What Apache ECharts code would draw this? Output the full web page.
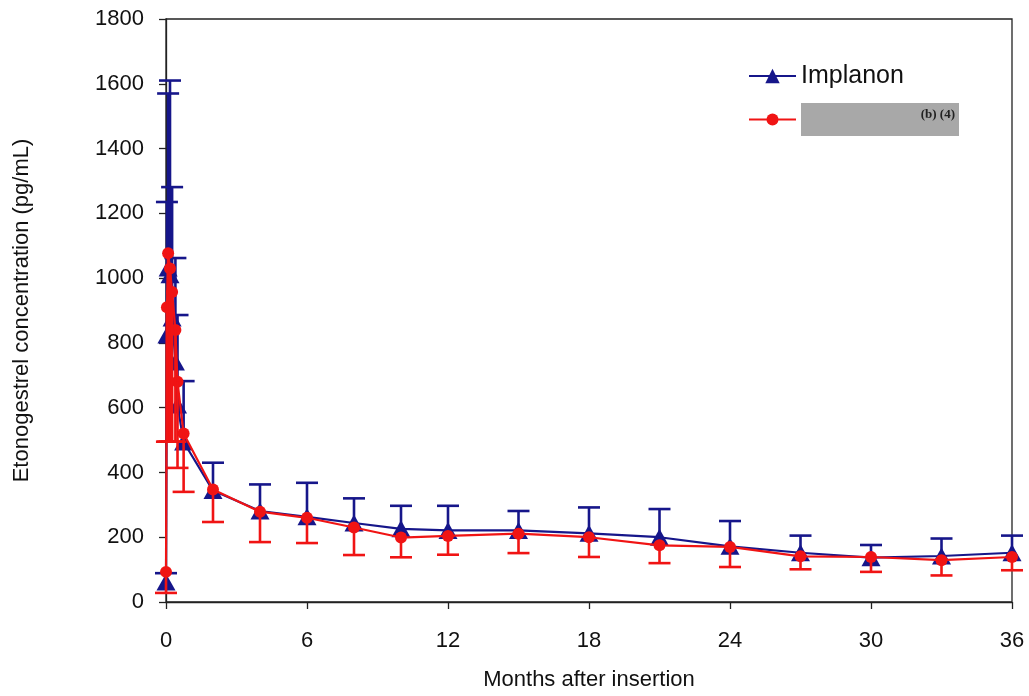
<!DOCTYPE html>
<html>
<head>
<meta charset="utf-8">
<script src="https://cdn.jsdelivr.net/npm/echarts@6/dist/echarts.min.js"></script>
<style>
  html, body { margin: 0; padding: 0; background: #fff; }
  #chart { width: 1029px; height: 696px; }
</style>
</head>
<body>
<div id="chart"></div>
<script>
// Sampling times (months after insertion)
const months = [0, 0.04, 0.09, 0.17, 0.26, 0.4, 0.49, 0.75, 2, 4, 6, 8, 10, 12, 15, 18, 21, 24, 27, 30, 33, 36];

// Implanon: mean concentration and mean + SD (pg/mL)
const implanonMean = [62, 824, 1031, 1010, 877, 741, 608, 494, 344, 281, 263, 244, 226, 221, 221, 212, 200, 172, 152, 137, 142, 152];
const implanonUpper = [89, 1235, 1570, 1610, 1281, 1062, 886, 682, 430, 363, 368, 320, 297, 297, 281, 292, 287, 250, 205, 176, 196, 205];

// Comparator implant: mean concentration and mean - SD (pg/mL)
const otherMean = [93, 910, 1077, 1030, 957, 840, 680, 520, 347, 279, 260, 230, 199, 204, 211, 200, 175, 170, 141, 139, 129, 139];
const otherLower = [28, 495, 495, 495, 495, 495, 414, 340, 247, 185, 182, 145, 138, 146, 151, 139, 120, 108, 101, 93, 82, 98];

// Axis ticks
const xTicks = [0, 6, 12, 18, 24, 30, 36];
const yTicks = [0, 200, 400, 600, 800, 1000, 1200, 1400, 1600, 1800];

const seriesNames = ['Implanon', '(b) (4)'];
const BLUE = '#16168a';
const RED = '#f01414';
const FONT = 'Liberation Sans, Arial, sans-serif';

const pairs = (xs, ys) => xs.map((x, i) => [x, ys[i]]);
const triples = (xs, ys, zs) => xs.map((x, i) => [x, ys[i], zs[i]]);

// One-sided error bar: stem from the mean to the bound, with a cap
function errorBar(color) {
  return function (params, api) {
    const x = api.value(0);
    const p0 = api.coord([x, api.value(1)]);
    const p1 = api.coord([x, api.value(2)]);
    const hw = 11;
    const style = { stroke: color, lineWidth: 2.6 };
    return {
      type: 'group',
      children: [
        { type: 'line', shape: { x1: p0[0], y1: p0[1], x2: p1[0], y2: p1[1] }, style: style },
        { type: 'line', shape: { x1: p1[0] - hw, y1: p1[1], x2: p1[0] + hw, y2: p1[1] }, style: style }
      ]
    };
  };
}

const chart = echarts.init(document.getElementById('chart'), null, { renderer: 'canvas' });

chart.setOption({
  animation: false,
  backgroundColor: '#fff',
  grid: {
    left: 166, right: 17, top: 19, bottom: 94,
    show: true, borderColor: '#222', borderWidth: 1.3, backgroundColor: 'transparent'
  },
  legend: [
    {
      data: [seriesNames[0]],
      left: 748, top: 63,
      orient: 'vertical',
      itemWidth: 47, itemHeight: 18, itemGap: 0,
      padding: 0,
      textStyle: { fontFamily: FONT, fontSize: 25, color: '#111', lineHeight: 26 }
    },
    {
      data: [seriesNames[1]],
      left: 748, top: 103,
      orient: 'vertical',
      itemWidth: 47, itemHeight: 15, itemGap: 0,
      padding: 0,
      formatter: name => '{box|' + name + '}',
      textStyle: {
        rich: {
          box: {
            backgroundColor: '#a8a8a8',
            width: 154,
            height: 17,
            lineHeight: 17,
            padding: [3, 4, 13, 0],
            align: 'right',
            fontFamily: 'Liberation Serif, serif',
            fontSize: 13,
            fontWeight: 'bold',
            color: '#222'
          }
        }
      }
    }
  ],
  xAxis: {
    type: 'value',
    min: xTicks[0], max: xTicks[xTicks.length - 1], interval: 6,
    name: 'Months after insertion',
    nameLocation: 'middle', nameGap: 67,
    nameTextStyle: { fontFamily: FONT, fontSize: 22, color: '#111' },
    axisLine: { lineStyle: { color: '#222', width: 1.3 } },
    axisTick: { show: true, length: 7, lineStyle: { color: '#222', width: 1.3 } },
    axisLabel: { fontFamily: FONT, fontSize: 22, color: '#111', margin: 28 },
    splitLine: { show: false }
  },
  yAxis: {
    type: 'value',
    min: yTicks[0], max: yTicks[yTicks.length - 1], interval: 200,
    name: 'Etonogestrel concentration (pg/mL)',
    nameLocation: 'middle', nameGap: 133,
    nameTextStyle: { fontFamily: FONT, fontSize: 22, color: '#111' },
    axisLine: { show: true, lineStyle: { color: '#222', width: 1.3 } },
    axisTick: { show: true, length: 7, lineStyle: { color: '#222', width: 1.3 } },
    axisLabel: { fontFamily: FONT, fontSize: 22, color: '#111', margin: 22, formatter: v => String(v) },
    splitLine: { show: false }
  },
  series: [
    {
      name: seriesNames[0],
      type: 'line',
      data: pairs(months, implanonMean),
      symbol: 'triangle', symbolSize: [19, 17],
      lineStyle: { color: BLUE, width: 2.2 },
      itemStyle: { color: BLUE },
      z: 2
    },
    {
      name: 'Implanon SD',
      type: 'custom',
      renderItem: errorBar(BLUE),
      data: triples(months, implanonMean, implanonUpper),
      z: 3
    },
    {
      name: seriesNames[1],
      type: 'line',
      data: pairs(months, otherMean),
      symbol: 'circle', symbolSize: 12,
      lineStyle: { color: RED, width: 2.2 },
      itemStyle: { color: RED },
      z: 4
    },
    {
      name: 'Comparator SD',
      type: 'custom',
      renderItem: errorBar(RED),
      data: triples(months, otherMean, otherLower),
      z: 5
    }
  ]
});
</script>
</body>
</html>
